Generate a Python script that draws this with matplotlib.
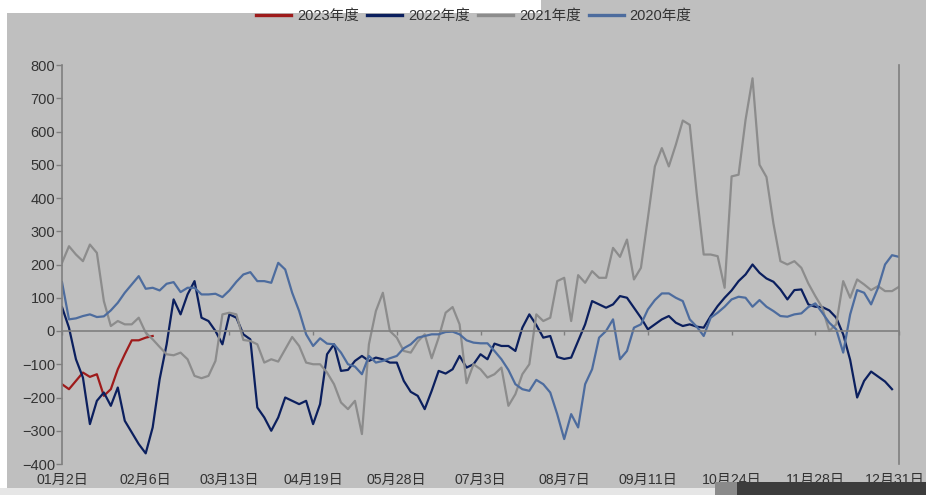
import numpy as np
import matplotlib
matplotlib.use("Agg")
import matplotlib.pyplot as plt
from matplotlib import font_manager
from matplotlib.transforms import blended_transform_factory, offset_copy
from matplotlib.patches import Rectangle

# ---------------- data (trading-day index, step 2) ----------------
x_labels = ["01月2日", "02月6日", "03月13日", "04月19日", "05月28日", "07月3日",
            "08月7日", "09月11日", "10月24日", "11月28日", "12月31日"]

y2023 = [-160, -175, -150, -125, -138, -130, -195, -175, -115, -70, -28, -28, -20, -15]

y2022 = [72, 10, -85, -140, -280, -210, -185, -225, -170, -270,
         -305, -340, -368, -290, -145, -40, 95, 50, 110, 150,
         40, 30, 0, -40, 50, 40, -10, -25, -230, -260,
         -300, -260, -200, -210, -220, -210, -280, -220, -70, -40,
         -120, -117, -90, -75, -90, -80, -85, -95, -95, -150,
         -183, -195, -235, -180, -120, -128, -115, -75, -110, -100,
         -70, -85, -38, -45, -45, -60, 10, 50, 18, -20,
         -15, -78, -84, -80, -30, 20, 90, 80, 70, 80,
         105, 100, 70, 40, 5, 20, 35, 45, 25, 15,
         20, 13, 10, 45, 75, 100, 122, 150, 170, 200,
         175, 158, 148, 125, 95, 123, 125, 80, 73, 72,
         62, 40, -10, -87, -200, -150, -122, -137, -152, -175,
         np.nan]

y2021 = [205, 255, 230, 210, 260, 235, 90, 15, 30, 20,
         20, 40, -5, -25, -48, -70, -73, -65, -85, -135,
         -142, -135, -90, 50, 55, 50, -27, -30, -40, -95,
         -85, -92, -55, -18, -45, -95, -100, -100, -125, -160,
         -215, -235, -210, -310, -40, 60, 115, 0, -20, -60,
         -65, -32, -10, -82, -20, 55, 72, 20, -157, -100,
         -115, -140, -130, -110, -225, -190, -130, -100, 50, 30,
         40, 150, 160, 30, 168, 145, 180, 160, 160, 250,
         223, 275, 155, 190, 340, 495, 550, 495, 560, 633,
         620, 413, 230, 230, 225, 130, 465, 470, 635, 760,
         500, 463, 323, 210, 200, 210, 190, 143, 105, 70,
         0, 20, 150, 100, 155, 140, 123, 135, 120, 120,
         133]

y2020 = [147, 35, 38, 45, 50, 42, 44, 62, 85, 115,
         140, 165, 127, 130, 122, 142, 147, 117, 130, 130,
         110, 110, 112, 102, 122, 148, 170, 177, 150, 150,
         145, 205, 185, 115, 60, -10, -45, -22, -38, -40,
         -65, -100, -107, -130, -75, -95, -90, -82, -75, -52,
         -40, -20, -15, -10, -10, -3, -2, -10, -28, -35,
         -37, -37, -60, -85, -117, -160, -175, -180, -147, -160,
         -185, -250, -325, -250, -290, -160, -115, -20, 0, 35,
         -85, -60, 10, 20, 65, 93, 113, 113, 100, 90,
         35, 13, -15, 40, 55, 73, 95, 103, 100, 73,
         93, 73, 60, 45, 43, 50, 53, 72, 83, 55,
         25, 5, -65, 50, 123, 115, 80, 130, 200, 228,
         223]

series = [("2023年度", y2023, "#9e1b1b"),
          ("2022年度", y2022, "#0b1f5e"),
          ("2021年度", y2021, "#8c8c8c"),
          ("2020年度", y2020, "#4d6c9e")]

# ---------------- fonts ----------------
avail = {f.name for f in font_manager.fontManager.ttflist}
narrow = "Liberation Sans Narrow" if "Liberation Sans Narrow" in avail else (
    "DejaVu Sans Condensed" if "DejaVu Sans Condensed" in avail else "Liberation Sans")
fam = [narrow, "Noto Sans CJK SC", "DejaVu Sans"]
plt.rcParams["font.family"] = fam

BG = "#bfbfbf"
TXT = "#333333"
AX = "#7f7f7f"

fig = plt.figure(figsize=(9.26, 4.95), dpi=100)
fig.patch.set_facecolor(BG)

# screenshot borders
fig.patches.append(Rectangle((0, 1 - 13 / 495), 541 / 926, 13 / 495, transform=fig.transFigure,
                             facecolor="white", edgecolor="none", zorder=0))
fig.patches.append(Rectangle((0, 0), 7 / 926, 1, transform=fig.transFigure,
                             facecolor="white", edgecolor="none", zorder=0))
fig.patches.append(Rectangle((0, 0), 715 / 926, 7 / 495, transform=fig.transFigure,
                             facecolor="#e6e6e6", edgecolor="none", zorder=0))
fig.patches.append(Rectangle((715 / 926, 0), 22 / 926, 13 / 495, transform=fig.transFigure,
                             facecolor="#8a8a8a", edgecolor="none", zorder=0))
fig.patches.append(Rectangle((737 / 926, 0), 189 / 926, 13 / 495, transform=fig.transFigure,
                             facecolor="#3c3c3c", edgecolor="none", zorder=0))

ax = fig.add_axes([62 / 926, 1 - 464 / 495, (899 - 62) / 926, (464 - 65) / 495])
ax.set_facecolor(BG)

for name, ys, col in series:
    xs = np.arange(len(ys)) * 2
    ax.plot(xs, ys, color=col, lw=1.6, label=name, solid_joinstyle="round")

ax.set_xlim(0, 240)
ax.set_ylim(-400, 800)
ax.set_yticks(np.arange(-400, 801, 100))
ax.tick_params(axis="y", direction="out", length=4, width=1, color=AX,
               labelsize=10.5, labelcolor=TXT, pad=1)

# zero line acts as category axis
ax.spines["bottom"].set_position(("data", 0))
ax.spines["bottom"].set_color(AX)
ax.spines["bottom"].set_linewidth(1.2)
tick_pos = np.arange(0, 241, 24)
ax.set_xticks(tick_pos)
ax.set_xticklabels([])
ax.tick_params(axis="x", direction="out", length=3, width=1, color=AX)
ax.spines["left"].set_color(AX)
ax.spines["left"].set_linewidth(1.2)
ax.spines["right"].set_color(AX)
ax.spines["right"].set_linewidth(1.2)
ax.spines["top"].set_visible(False)

trans = blended_transform_factory(ax.transData, ax.transAxes)
for k, (p, lab) in enumerate(zip(tick_pos, x_labels)):
    tr = trans
    if k == len(x_labels) - 1:
        tr = offset_copy(trans, fig=fig, x=-4, y=0, units="dots")
    ax.text(p, -0.04, lab, transform=tr, ha="center", va="center",
            fontsize=10.2, color=TXT, family=fam)

leg = fig.legend(loc="center", bbox_to_anchor=(474 / 926, 1 - 16 / 495), ncol=4,
                 frameon=False, fontsize=10.5, handlelength=2.4, handletextpad=0.4,
                 columnspacing=0.55, labelcolor=TXT)
for h in leg.get_lines():
    h.set_linewidth(2.4)

fig.savefig("out.png", dpi=100, facecolor=fig.get_facecolor())
